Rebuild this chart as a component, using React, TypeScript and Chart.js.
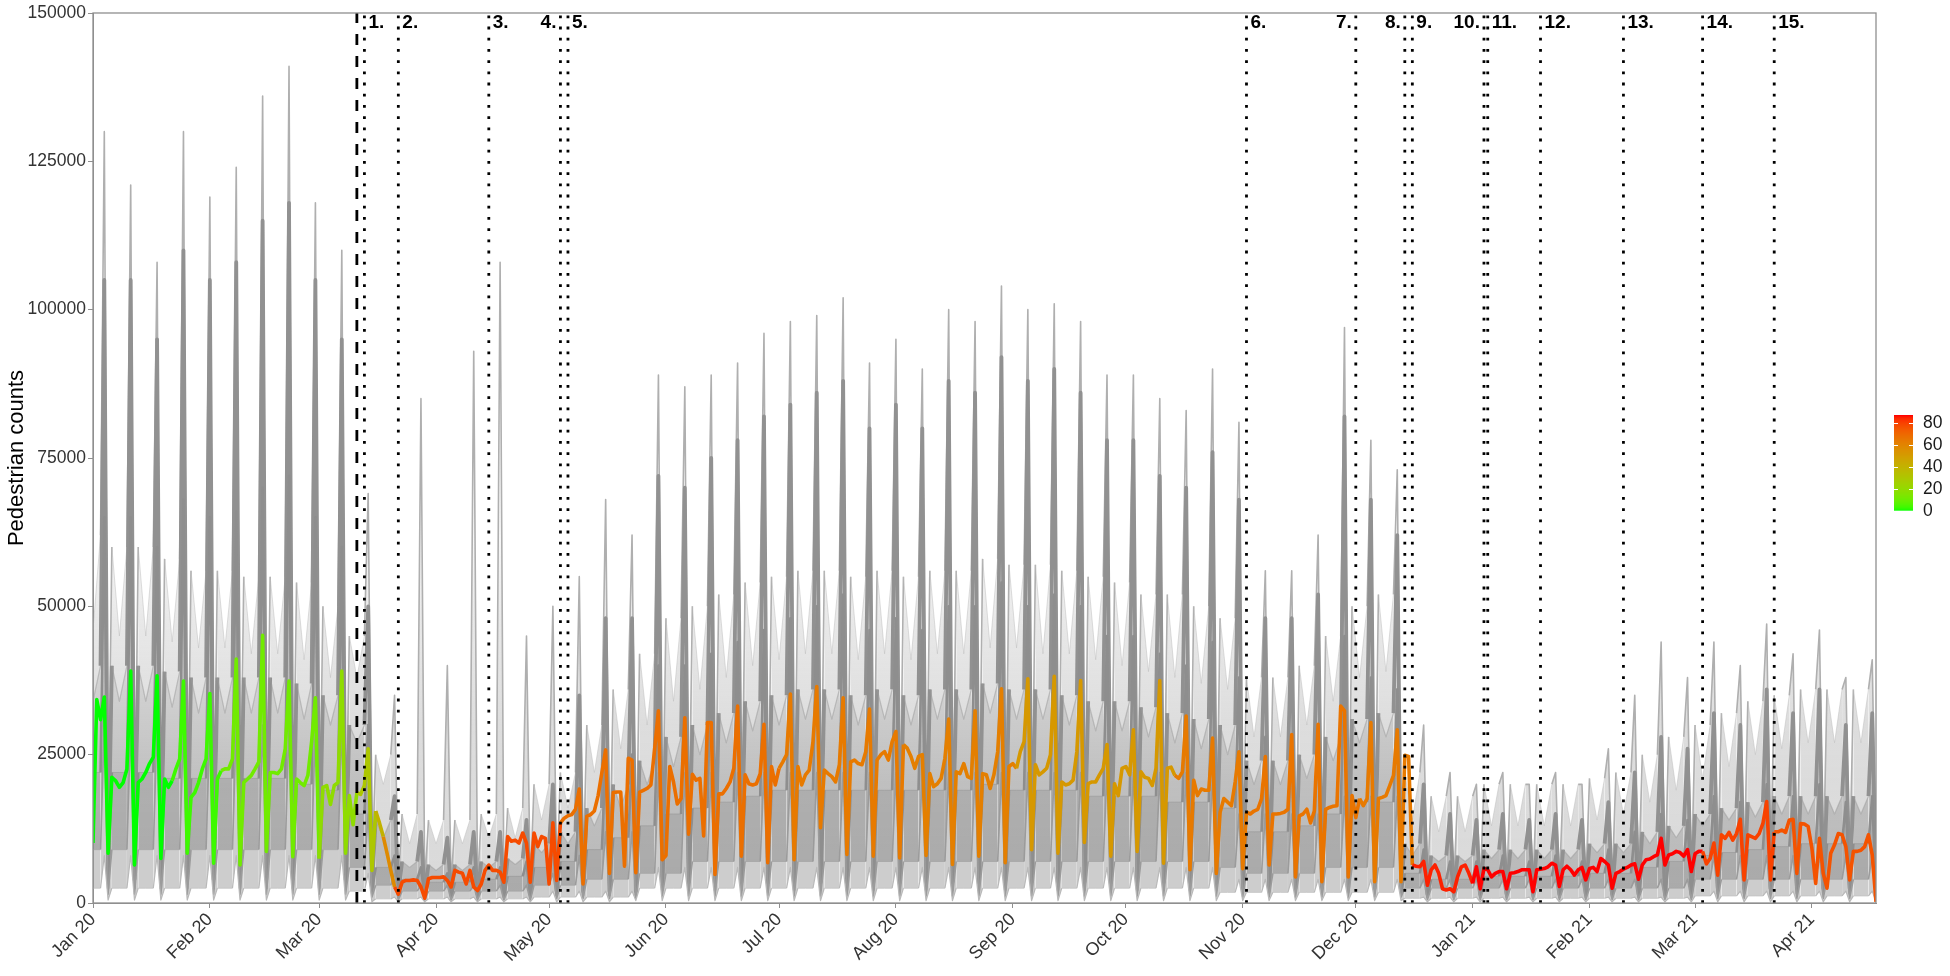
import React, { useEffect, useRef } from "react";
import { Chart, registerables } from "chart.js";

Chart.register(...registerables);

/* ---------------- calendar ---------------- */
const START_UTC = Date.UTC(2020, 0, 1);
const dayOf = (iso: string): number =>
  Math.round((Date.parse(iso + "T00:00:00Z") - START_UTC) / 86400000);

const lastDate = "2021-04-18";
const firstSaturday = "2020-01-04";

const monthTickDates = [
  "2020-01-01", "2020-02-01", "2020-03-01", "2020-04-01", "2020-05-01", "2020-06-01",
  "2020-07-01", "2020-08-01", "2020-09-01", "2020-10-01", "2020-11-01", "2020-12-01",
  "2021-01-01", "2021-02-01", "2021-03-01", "2021-04-01",
];
const monthTickLabels = [
  "Jan 20", "Feb 20", "Mar 20", "Apr 20", "May 20", "Jun 20", "Jul 20", "Aug 20",
  "Sep 20", "Oct 20", "Nov 20", "Dec 20", "Jan 21", "Feb 21", "Mar 21", "Apr 21",
];
const yTickValues = [0, 25000, 50000, 75000, 100000, 125000, 150000];

/* ---------------- median pedestrian counts per day (thousands) ---------------- */
const medJan20 = [10.1, 34.3, 30.9, 34.7, 8.4, 21.2, 20.6, 19.5, 20.3, 22.6, 39.1, 6.4, 20.3, 20.9, 22.0, 23.5, 24.6, 38.3, 7.5, 20.9, 19.5, 20.6, 22.6, 24.3, 37.4, 8.4, 17.8, 18.6, 20.3, 22.6, 24.3];
const medFeb20 = [35.3, 6.7, 20.9, 22.3, 22.6, 22.6, 24.3, 41.1, 6.4, 20.3, 20.9, 21.5, 22.6, 23.8, 45.1, 8.7, 22.0, 22.0, 21.8, 22.6, 26.0, 37.4, 7.8, 20.9, 20.3, 19.8, 21.5, 27.2, 34.6];
const medMar20 = [7.5, 19.5, 19.8, 16.6, 19.8, 20.3, 39.1, 8.4, 18.1, 13.2, 18.6, 18.3, 19.8, 26.0, 5.5, 15.5, 13.5, 11.2, 8.4, 5.5, 2.7, 1.5, 3.5, 3.8, 3.8, 3.9, 3.8, 2.7, 0.8, 4.1, 4.3];
const medApr20 = [4.3, 4.3, 4.4, 3.8, 2.7, 5.5, 5.2, 5.0, 3.2, 5.5, 2.7, 2.1, 3.2, 5.5, 6.4, 5.5, 5.5, 5.2, 3.5, 11.2, 10.4, 10.6, 10.1, 11.8, 10.1, 3.5, 11.8, 9.5, 11.2, 10.9];
const medMay20 = [3.2, 13.5, 3.8, 13.5, 14.3, 14.7, 14.9, 15.8, 19.2, 3.2, 14.6, 14.9, 15.5, 18.1, 22.0, 25.8, 5.0, 18.6, 18.7, 18.7, 6.2, 24.4, 24.1, 5.1, 18.7, 19.0, 19.3, 19.9, 26.0, 32.4, 7.3];
const medJun20 = [8.0, 23.0, 20.4, 16.7, 17.6, 31.2, 11.6, 21.7, 20.7, 21.0, 11.3, 30.4, 30.4, 4.8, 18.4, 18.4, 19.3, 20.4, 22.7, 33.2, 7.9, 21.6, 20.1, 19.9, 20.1, 21.8, 30.1, 6.8, 23.0, 19.9];
const medJul20 = [22.7, 23.8, 25.0, 35.2, 7.3, 23.0, 19.9, 21.6, 22.4, 27.2, 36.5, 12.7, 22.4, 21.8, 21.3, 20.4, 23.3, 34.6, 8.2, 23.8, 24.1, 23.5, 23.3, 25.5, 32.7, 7.9, 24.1, 25.0, 25.5, 24.1, 27.2];
const medAug20 = [28.9, 7.6, 26.7, 26.1, 24.7, 22.7, 24.7, 25.0, 8.0, 21.8, 19.6, 20.1, 21.0, 24.4, 31.0, 6.5, 22.1, 21.8, 23.5, 21.3, 21.0, 32.4, 7.9, 21.8, 21.6, 19.3, 21.6, 25.5, 36.1, 6.8, 23.0];
const medSep20 = [23.5, 22.7, 25.5, 27.2, 37.8, 9.0, 23.3, 21.6, 22.1, 22.7, 25.0, 38.2, 8.4, 20.4, 19.9, 20.1, 20.7, 25.5, 37.5, 10.2, 20.1, 20.4, 20.4, 21.6, 22.7, 26.7, 7.9, 20.1, 18.1, 22.7];
const medOct20 = [23.0, 21.6, 29.2, 8.7, 22.1, 21.2, 21.0, 19.8, 22.7, 37.5, 6.7, 22.7, 22.9, 21.5, 21.0, 22.1, 31.5, 5.6, 20.7, 18.1, 19.2, 19.0, 19.0, 27.8, 5.0, 15.3, 17.6, 17.0, 16.4, 20.4, 25.5];
const medNov20 = [5.8, 15.3, 15.0, 15.5, 15.8, 17.6, 24.7, 6.4, 15.0, 15.0, 15.1, 15.3, 15.8, 28.4, 4.4, 14.7, 15.0, 15.8, 13.5, 15.5, 30.1, 3.6, 15.8, 16.1, 16.3, 16.4, 33.2, 32.4, 4.4, 18.1];
const medDec20 = [14.4, 17.6, 16.4, 17.6, 30.4, 3.6, 17.6, 17.8, 18.1, 19.8, 21.5, 29.2, 3.6, 24.9, 24.7, 6.4, 6.2, 6.1, 7.0, 3.0, 5.6, 6.4, 5.0, 2.4, 2.2, 2.4, 1.9, 4.4, 6.1, 6.4, 5.0];
const medJan21 = [3.3, 6.1, 2.4, 5.8, 5.6, 4.4, 5.0, 5.3, 5.3, 2.4, 5.0, 5.1, 5.3, 5.6, 5.6, 5.6, 1.9, 5.6, 5.7, 5.8, 6.1, 6.7, 6.4, 2.8, 5.6, 6.2, 5.6, 4.7, 5.6, 6.0, 3.9];
const medFeb21 = [5.8, 6.0, 5.3, 7.5, 7.0, 6.4, 2.5, 5.0, 5.3, 5.7, 6.0, 6.4, 6.6, 4.0, 6.4, 7.3, 7.4, 7.8, 8.1, 10.9, 6.4, 8.1, 8.3, 8.7, 8.5, 7.9, 9.0, 5.3];
const medMar21 = [8.3, 8.7, 8.7, 6.6, 7.5, 10.1, 4.7, 11.5, 10.9, 11.9, 10.6, 11.7, 14.1, 3.9, 11.5, 11.2, 10.9, 11.7, 13.4, 17.1, 3.9, 12.0, 12.0, 12.3, 11.9, 14.0, 14.1, 5.0, 13.4, 13.3, 12.9];
const medApr21 = [9.2, 3.3, 10.9, 5.0, 2.5, 8.4, 9.8, 11.7, 11.5, 9.5, 3.9, 8.7, 8.7, 8.9, 9.5, 11.5, 8.1, 0.2];

const medianThousands = [
  ...medJan20, ...medFeb20, ...medMar20, ...medApr20, ...medMay20, ...medJun20,
  ...medJul20, ...medAug20, ...medSep20, ...medOct20, ...medNov20, ...medDec20,
  ...medJan21, ...medFeb21, ...medMar21, ...medApr21,
];

/* ---------------- stringency index (step changes) ---------------- */
const stringencyDates = [
  "2020-01-01", "2020-01-22", "2020-02-04", "2020-03-01", "2020-03-11", "2020-03-16",
  "2020-03-18", "2020-03-21", "2020-05-04", "2020-07-01", "2020-08-03", "2020-09-02",
  "2020-10-14", "2020-11-02", "2020-12-02", "2020-12-16", "2021-01-01", "2021-03-03",
  "2021-03-22",
];
const stringencyValues = [0, 3, 11, 19, 30, 40, 58, 78, 68, 64, 62, 52, 64, 66, 64, 85, 87, 80, 76];

/* ---------------- grey sensor envelope, per week (thousands):
   Mon/Fri weekday level, Wednesday level, Saturday peak, Sunday low ---------------- */
const outerBase = [62, 60, 60, 58, 56, 56, 55, 55, 54, 50, 45, 25, 15, 14, 14, 15, 16, 20, 22, 30, 36, 42, 48, 50, 52, 54, 55, 56, 56, 55, 56, 55, 56, 56, 58, 57, 57, 56, 55, 54, 52, 52, 50, 48, 38, 38, 40, 45, 50, 52, 22, 18, 18, 20, 20, 20, 20, 21, 22, 25, 28, 30, 32, 34, 35, 36, 36, 36];
const outerMid = [46, 45, 45, 44, 43, 43, 42, 42, 41, 38, 38, 20, 10, 10, 10, 11, 11, 14, 16, 22, 26, 30, 34, 36, 38, 40, 41, 42, 42, 41, 42, 41, 42, 42, 43, 43, 42, 42, 41, 40, 39, 38, 37, 36, 28, 28, 30, 34, 38, 39, 14, 12, 12, 13, 13, 13, 13, 14, 15, 17, 19, 21, 23, 25, 26, 27, 27, 27];
const outerPeak = [130, 121, 108, 130, 119, 124, 136, 141, 118, 110, 69, 35, 85, 40, 93, 108, 45, 50, 55, 68, 62, 89, 87, 89, 91, 96, 98, 99, 102, 91, 95, 90, 100, 98, 104, 100, 101, 98, 89, 89, 85, 83, 90, 81, 56, 56, 62, 97, 78, 73, 30, 22, 20, 22, 20, 22, 20, 26, 35, 44, 38, 44, 40, 47, 42, 46, 38, 41];
const outerLow = [8, 8, 8, 8, 8, 8, 8, 8, 8, 8, 5, 3, 3, 3, 3, 3, 3, 4, 4, 4, 4, 7, 7, 7, 7, 7, 7, 7, 7, 7, 7, 7, 7, 7, 7, 7, 7, 7, 7, 7, 7, 7, 7, 5, 5, 5, 5, 5, 5, 5, 3, 3, 3, 3, 3, 3, 3, 3, 3, 3, 3, 5, 5, 5, 5, 5, 5, 5];

const denseTopBase = [40, 40, 40, 39, 38, 38, 38, 38, 37, 35, 30, 14, 7, 6.5, 6.5, 7, 7.5, 10, 12, 16, 20, 24, 28, 30, 32, 34, 35, 36, 36, 35, 36, 35, 36, 36, 37, 36, 36, 35, 34, 34, 33, 32, 31, 30, 24, 24, 25, 28, 31, 32, 10, 8, 8, 9, 9, 9, 9, 10, 10, 12, 13, 15, 16, 17, 18, 18, 18, 18];
const denseTopMid = [34, 34, 34, 33, 32, 32, 32, 32, 31, 30, 27, 11, 6, 5.5, 5.5, 6, 6.5, 8.5, 10, 13, 16, 20, 23, 25, 27, 29, 30, 31, 31, 30, 31, 30, 31, 31, 32, 31, 31, 30, 29, 29, 28, 27, 26, 25, 20, 20, 21, 24, 27, 28, 8, 7, 7, 7.5, 7.5, 7.5, 7.5, 8.5, 8.5, 10, 11, 13, 14, 14.5, 15, 15, 15, 15];
const denseTopPeak = [105, 105, 95, 110, 105, 108, 115, 118, 105, 95, 50, 18, 12, 11, 12, 12, 14, 20, 35, 48, 48, 72, 70, 75, 78, 82, 84, 86, 88, 80, 84, 80, 88, 86, 92, 88, 90, 86, 78, 78, 72, 70, 76, 68, 48, 48, 52, 82, 68, 62, 20, 15, 14, 15, 14, 15, 14, 17, 22, 28, 26, 32, 30, 36, 32, 36, 30, 32];
const denseTopLow = [4, 4, 4, 4, 4, 4, 4, 4, 4, 4, 3, 1.5, 1.5, 1.5, 1.5, 1.5, 1.5, 2, 2, 2, 2, 3.5, 3.5, 3.5, 3.5, 3.5, 3.5, 3.5, 3.5, 3.5, 3.5, 3.5, 3.5, 3.5, 3.5, 3.5, 3.5, 3.5, 3.5, 3.5, 3.5, 3.5, 3.5, 2.5, 2.5, 2.5, 2.5, 2.5, 2.5, 2.5, 1.5, 1.5, 1.5, 1.5, 1.5, 1.5, 1.5, 1.5, 1.5, 1.5, 1.5, 2.5, 2.5, 2.5, 2.5, 2.5, 2.5, 2.5];

const denseMidBase = [22, 22, 22, 21, 21, 21, 21, 21, 20, 19, 15, 6, 4, 3.5, 3.5, 4, 4.5, 6, 7, 9, 11, 13, 15, 16, 17, 18, 19, 19, 19, 19, 19, 19, 19, 19, 20, 19, 19, 19, 18, 18, 18, 17, 17, 16, 12, 12, 13, 15, 17, 17, 5, 4, 4, 4.5, 4.5, 4.5, 4.5, 5, 5, 6, 7, 8, 8.5, 9, 9.5, 10, 10, 10];
const denseMidPeak = [65, 65, 60, 68, 65, 66, 70, 72, 65, 60, 30, 8, 6, 5, 6, 6, 7, 10, 18, 25, 25, 40, 40, 42, 44, 46, 48, 50, 52, 46, 48, 46, 50, 50, 54, 50, 52, 50, 45, 45, 42, 40, 44, 38, 28, 28, 30, 45, 38, 36, 9, 7, 7, 8, 7, 8, 7, 9, 12, 15, 14, 18, 17, 20, 18, 20, 17, 18];
const denseMidLow = [2.5, 2.5, 2.5, 2.5, 2.5, 2.5, 2.5, 2.5, 2.5, 2.5, 2, 1, 1, 1, 1, 1, 1, 1.3, 1.3, 1.3, 1.3, 2.2, 2.2, 2.2, 2.2, 2.2, 2.2, 2.2, 2.2, 2.2, 2.2, 2.2, 2.2, 2.2, 2.2, 2.2, 2.2, 2.2, 2.2, 2.2, 2.2, 2.2, 2.2, 1.8, 1.8, 1.8, 1.8, 1.8, 1.8, 1.8, 1, 1, 1, 1, 1, 1, 1, 1, 1, 1, 1, 1.6, 1.6, 1.6, 1.6, 1.6, 1.6, 1.6];

const denseBotBase = [9, 9, 9, 9, 9, 9, 9, 9, 9, 9, 6, 3, 2, 2, 2, 2, 2, 3, 3, 4, 4, 5, 5, 7, 7, 7, 7, 7, 7, 7, 7, 7, 7, 7, 7, 7, 7, 7, 7, 7, 7, 7, 7, 6, 5, 5, 5, 6, 6, 6, 2.5, 2.5, 2.5, 2.5, 2.5, 2.5, 2.5, 2.5, 2.5, 2.5, 2.5, 4, 4, 4, 4, 4, 4, 4];
const denseBotPeak = [30, 30, 30, 30, 30, 30, 30, 30, 30, 30, 15, 5, 3, 3, 3, 3, 3, 5, 8, 12, 12, 22, 22, 22, 22, 22, 22, 22, 22, 22, 22, 22, 22, 22, 22, 22, 22, 22, 22, 22, 22, 22, 22, 15, 15, 15, 15, 18, 18, 18, 4, 4, 4, 4, 4, 4, 4, 4, 4, 4, 4, 8, 8, 8, 8, 8, 8, 8];
const denseBotLow = [1.5, 1.5, 1.5, 1.5, 1.5, 1.5, 1.5, 1.5, 1.5, 1.5, 1, 0.5, 0.5, 0.5, 0.5, 0.5, 0.5, 0.8, 0.8, 0.8, 0.8, 1.2, 1.2, 1.2, 1.2, 1.2, 1.2, 1.2, 1.2, 1.2, 1.2, 1.2, 1.2, 1.2, 1.2, 1.2, 1.2, 1.2, 1.2, 1.2, 1.2, 1.2, 1.2, 1, 1, 1, 1, 1, 1, 1, 0.6, 0.6, 0.6, 0.6, 0.6, 0.6, 0.6, 0.6, 0.6, 0.6, 0.6, 0.8, 0.8, 0.8, 0.8, 0.8, 0.8, 0.8];

const floorBase = [2.5, 2.5, 2.5, 2.5, 2.5, 2.5, 2.5, 2.5, 2.5, 2.5, 2, 0.7, 0.7, 0.7, 0.7, 0.7, 0.7, 1, 1, 1, 1, 2.5, 2.5, 2.5, 2.5, 2.5, 2.5, 2.5, 2.5, 2.5, 2.5, 2.5, 2.5, 2.5, 2.5, 2.5, 2.5, 2.5, 2.5, 2.5, 2.5, 2.5, 2.5, 1.8, 1.8, 1.8, 1.8, 1.8, 1.8, 1.8, 0.8, 0.8, 0.8, 0.8, 0.8, 0.8, 0.8, 0.8, 0.8, 0.8, 0.8, 1.2, 1.2, 1.2, 1.2, 1.2, 1.2, 1.2];
const floorPeak = [8, 8, 8, 8, 8, 8, 8, 8, 8, 8, 5, 1, 1, 1, 1, 1, 1, 2, 2, 2, 2, 6, 6, 6, 6, 6, 6, 6, 6, 6, 6, 6, 6, 6, 6, 6, 6, 6, 6, 6, 6, 6, 6, 4, 4, 4, 4, 4, 4, 4, 1, 1, 1, 1, 1, 1, 1, 1, 1, 1, 1, 2, 2, 2, 2, 2, 2, 2];
const floorLow = [0.5, 0.5, 0.5, 0.5, 0.5, 0.5, 0.5, 0.5, 0.5, 0.5, 0.2, 0.2, 0.2, 0.2, 0.2, 0.2, 0.2, 0.2, 0.2, 0.2, 0.4, 0.4, 0.4, 0.4, 0.4, 0.4, 0.4, 0.4, 0.4, 0.4, 0.4, 0.4, 0.4, 0.4, 0.4, 0.4, 0.4, 0.4, 0.4, 0.4, 0.4, 0.4, 0.4, 0.4, 0.4, 0.4, 0.4, 0.4, 0.4, 0.4, 0.2, 0.2, 0.2, 0.2, 0.2, 0.2, 0.2, 0.2, 0.2, 0.2, 0.2, 0.2, 0.2, 0.2, 0.2, 0.2, 0.2, 0.2];

/* ---------------- events ---------------- */
const pandemicDate = "2020-03-11";
const eventDates = [
  "2020-03-13", "2020-03-22", "2020-04-15", "2020-05-04", "2020-05-06", "2020-11-02",
  "2020-12-01", "2020-12-14", "2020-12-16", "2021-01-04", "2021-01-05", "2021-01-19",
  "2021-02-10", "2021-03-03", "2021-03-22",
];
const eventLabels = ["1.", "2.", "3.", "4.", "5.", "6.", "7.", "8.", "9.", "10.", "11.", "12.", "13.", "14.", "15."];
const eventLabelSide = ["R", "R", "R", "L", "R", "R", "L", "L", "R", "L", "R", "R", "R", "R", "R"];

const legendTicks = [0, 20, 40, 60, 80];

/* ---------------- colour scale: CIELAB interpolation green -> red ---------------- */
const toLin = (c: number) => {
  const v = c / 255;
  return v <= 0.04045 ? v / 12.92 : Math.pow((v + 0.055) / 1.055, 2.4);
};
const fromLin = (c: number) => {
  const v = c <= 0.0031308 ? 12.92 * c : 1.055 * Math.pow(Math.max(c, 0), 1 / 2.4) - 0.055;
  return Math.round(Math.max(0, Math.min(1, v)) * 255);
};
const rgb2lab = (rgb: number[]) => {
  const R = toLin(rgb[0]), G = toLin(rgb[1]), B = toLin(rgb[2]);
  const X = (0.4124 * R + 0.3576 * G + 0.1805 * B) / 0.95047;
  const Y = 0.2126 * R + 0.7152 * G + 0.0722 * B;
  const Z = (0.0193 * R + 0.1192 * G + 0.9505 * B) / 1.08883;
  const f = (t: number) => (t > 0.008856 ? Math.cbrt(t) : 7.787 * t + 16 / 116);
  const fx = f(X), fy = f(Y), fz = f(Z);
  return [116 * fy - 16, 500 * (fx - fy), 200 * (fy - fz)];
};
const lab2rgb = (lab: number[]) => {
  const fy = (lab[0] + 16) / 116, fx = fy + lab[1] / 500, fz = fy - lab[2] / 200;
  const inv = (t: number) => (t * t * t > 0.008856 ? t * t * t : (t - 16 / 116) / 7.787);
  const X = inv(fx) * 0.95047, Y = inv(fy), Z = inv(fz) * 1.08883;
  const R = 3.2406 * X - 1.5372 * Y - 0.4986 * Z;
  const G = -0.9689 * X + 1.8758 * Y + 0.0415 * Z;
  const B = 0.0557 * X - 0.204 * Y + 1.057 * Z;
  return [fromLin(R), fromLin(G), fromLin(B)];
};
const LAB_LOW = rgb2lab([0, 255, 0]);
const LAB_HIGH = rgb2lab([255, 0, 0]);
const S_MIN = Math.min(...stringencyValues);
const S_MAX = Math.max(...stringencyValues);
const colourFor = (v: number) => {
  const t = Math.max(0, Math.min(1, (v - S_MIN) / (S_MAX - S_MIN)));
  const lab = [0, 1, 2].map((i) => LAB_LOW[i] + (LAB_HIGH[i] - LAB_LOW[i]) * t);
  const c = lab2rgb(lab);
  return `rgb(${c[0]},${c[1]},${c[2]})`;
};
const stringencyDays = stringencyDates.map(dayOf);
const stringencyAt = (day: number) => {
  let v = stringencyValues[0];
  for (let i = 0; i < stringencyDays.length; i++) if (stringencyDays[i] <= day) v = stringencyValues[i];
  return v;
};

/* ---------------- helpers ---------------- */
const FONT = "'Liberation Sans', Arial, Helvetica, sans-serif";
const SAT0 = dayOf(firstSaturday);

// five points per week: Monday, Wednesday, Friday, Saturday peak, Sunday low
const weeklyPoints = (base: number[], peak: number[], low: number[], mid?: number[]) => {
  const pts: { x: number; y: number }[] = [];
  for (let k = 0; k < peak.length; k++) {
    const sat = SAT0 + 7 * k;
    pts.push({ x: sat - 5, y: base[k] * 1000 });
    pts.push({ x: sat - 3, y: (mid ? mid[k] : base[k]) * 1000 });
    pts.push({ x: sat - 1, y: base[k] * 1000 });
    pts.push({ x: sat, y: peak[k] * 1000 });
    pts.push({ x: sat + 1, y: low[k] * 1000 });
  }
  return pts;
};
const PTS_PER_WEEK = 5;

// vertical fill gradient (fading towards higher counts)
const verticalGradient = (stops: [number, string][]) => (c: any) => {
  const chart = c.chart;
  const ys = chart.scales && chart.scales.y;
  if (!ys || !chart.chartArea) return stops[0][1];
  const top = stops[stops.length - 1][0];
  const g = chart.ctx.createLinearGradient(0, ys.getPixelForValue(0), 0, ys.getPixelForValue(top));
  stops.forEach(([v, col]) => g.addColorStop(v / top, col));
  return g;
};

const overlayPlugin = {
  id: "overlay",
  afterDatasetsDraw(chart: any) {
    const { ctx, chartArea: a, scales } = chart;
    const xs = scales.x;
    ctx.save();
    ctx.strokeStyle = "#000";
    ctx.lineWidth = 2.8;
    ctx.lineCap = "butt";
    ctx.setLineDash([2.8, 8.4]);
    eventDates.forEach((d) => {
      const x = xs.getPixelForValue(dayOf(d));
      ctx.beginPath();
      ctx.moveTo(x, a.bottom);
      ctx.lineTo(x, a.top);
      ctx.stroke();
    });
    ctx.setLineDash([11, 11]);
    const xp = xs.getPixelForValue(dayOf(pandemicDate));
    ctx.beginPath();
    ctx.moveTo(xp, a.bottom);
    ctx.lineTo(xp, a.top);
    ctx.stroke();
    ctx.setLineDash([]);
    ctx.fillStyle = "#000";
    ctx.font = `bold 19px ${FONT}`;
    ctx.textBaseline = "middle";
    eventDates.forEach((d, i) => {
      const x = xs.getPixelForValue(dayOf(d));
      if (eventLabelSide[i] === "L") {
        ctx.textAlign = "right";
        ctx.fillText(eventLabels[i], x - 4, a.top + 10);
      } else {
        ctx.textAlign = "left";
        ctx.fillText(eventLabels[i], x + 4, a.top + 10);
      }
    });
    ctx.strokeStyle = "#8f8f8f";
    ctx.lineWidth = 1.3;
    ctx.strokeRect(a.left, a.top, a.right - a.left, a.bottom - a.top);
    ctx.restore();
  },
  afterDraw(chart: any) {
    const { ctx, chartArea: a } = chart;
    ctx.save();
    ctx.translate(17, (a.top + a.bottom) / 2);
    ctx.rotate(-Math.PI / 2);
    ctx.fillStyle = "#000";
    ctx.font = `22px ${FONT}`;
    ctx.textAlign = "center";
    ctx.textBaseline = "middle";
    ctx.fillText("Pedestrian counts", 0, 0);
    ctx.restore();

    ctx.save();
    const barL = 1894, barW = 19;
    const y0 = 510.7, pxPerUnit = 1.0925;
    const yOf = (v: number) => y0 - v * pxPerUnit;
    const top = yOf(S_MAX), bottom = yOf(S_MIN);
    for (let y = Math.floor(top); y < bottom; y++) {
      const v = (y0 - (y + 0.5)) / pxPerUnit;
      ctx.fillStyle = colourFor(v);
      ctx.fillRect(barL, y, barW, Math.min(1, bottom - y));
    }
    ctx.strokeStyle = "#fff";
    ctx.lineWidth = 1;
    ctx.fillStyle = "#1a1a1a";
    ctx.font = `17.5px ${FONT}`;
    ctx.textAlign = "left";
    ctx.textBaseline = "middle";
    legendTicks.forEach((v) => {
      const y = Math.round(yOf(v)) + 0.5;
      ctx.beginPath();
      ctx.moveTo(barL, y);
      ctx.lineTo(barL + 4, y);
      ctx.moveTo(barL + barW - 4, y);
      ctx.lineTo(barL + barW, y);
      ctx.stroke();
      ctx.fillText(String(v), 1923, yOf(v));
    });
    ctx.restore();
  },
};

export default function App() {
  const ref = useRef<HTMLCanvasElement | null>(null);

  useEffect(() => {
    if (!ref.current) return;
    const lastDay = dayOf(lastDate);
    const monthTickDays = monthTickDates.map(dayOf);

    // weekday segments (Mon->Wed->Fri) are drawn light; Saturday spike / Sunday dip segments darker and wider
    const isFlat = (c: any) => c.p0DataIndex % PTS_PER_WEEK < 2;
    const greyLine = (
      pts: any[], spikeColor: string, spikeWidth: number, flatColor: string, flatWidth: number,
      order: number, fill: any, bg: any,
    ) => ({
      data: pts,
      borderColor: flatColor,
      borderWidth: flatWidth,
      backgroundColor: bg,
      fill,
      order,
      pointRadius: 0,
      tension: 0,
      borderJoinStyle: "round",
      segment: {
        borderColor: (c: any) => (isFlat(c) ? flatColor : spikeColor),
        borderWidth: (c: any) => (isFlat(c) ? flatWidth : spikeWidth),
      },
    });

    const outerFill = verticalGradient([
      [0, "rgba(190,190,190,0.58)"],
      [30000, "rgba(190,190,190,0.52)"],
      [48000, "rgba(190,190,190,0.34)"],
      [62000, "rgba(190,190,190,0.13)"],
      [85000, "rgba(190,190,190,0)"],
    ]);
    const denseFill = verticalGradient([
      [0, "rgba(145,145,145,0.64)"],
      [20000, "rgba(145,145,145,0.58)"],
      [34000, "rgba(145,145,145,0.44)"],
      [60000, "rgba(145,145,145,0.16)"],
    ]);

    const datasets: any[] = [
      greyLine(weeklyPoints(outerBase, outerPeak, outerLow, outerMid), "rgba(175,175,175,1)", 1.6, "rgba(190,190,190,0.5)", 1, 6, 1, outerFill),
      greyLine(weeklyPoints(denseTopBase, denseTopPeak, denseTopLow, denseTopMid), "rgba(145,145,145,1)", 3.8, "rgba(155,155,155,0.55)", 1.2, 5, 3, denseFill),
      greyLine(weeklyPoints(denseMidBase, denseMidPeak, denseMidLow), "rgba(142,142,142,1)", 2.6, "rgba(148,148,148,0.55)", 1, 4, 3, "rgba(135,135,135,0.3)"),
      greyLine(weeklyPoints(denseBotBase, denseBotPeak, denseBotLow), "rgba(155,155,155,1)", 1.6, "rgba(165,165,165,0.8)", 1.1, 3, 4, "rgba(160,160,160,0.52)"),
      greyLine(weeklyPoints(floorBase, floorPeak, floorLow), "rgba(185,185,185,1)", 1.2, "rgba(195,195,195,0.9)", 1, 2, false, "transparent"),
      {
        data: medianThousands.map((v, i) => ({ x: i, y: v * 1000 })),
        borderWidth: 3.6,
        borderColor: colourFor(stringencyAt(0)),
        segment: { borderColor: (c: any) => colourFor(stringencyAt(c.p0.parsed.x)) },
        fill: false,
        order: 0,
        pointRadius: 0,
        tension: 0,
        borderJoinStyle: "round",
      },
    ];

    const chart = new Chart(ref.current, {
      type: "line",
      data: { datasets },
      plugins: [overlayPlugin],
      options: {
        responsive: false,
        animation: false,
        events: [],
        layout: { padding: { left: 0, right: 74, top: 13, bottom: 0 } },
        plugins: { legend: { display: false }, tooltip: { enabled: false } },
        scales: {
          x: {
            type: "linear",
            min: 0,
            max: lastDay,
            afterBuildTicks: (s: any) => {
              s.ticks = monthTickDays.map((v) => ({ value: v }));
            },
            afterFit: (s: any) => {
              s.height = 73;
            },
            ticks: {
              autoSkip: false,
              maxRotation: 45,
              minRotation: 45,
              padding: 1,
              color: "#333333",
              font: { family: FONT, size: 18 },
              callback: (_v: any, i: number) => monthTickLabels[i],
            },
            grid: { display: true, drawOnChartArea: false, drawTicks: true, tickLength: 5, color: "#8f8f8f" },
            border: { display: true, color: "#8f8f8f" },
          },
          y: {
            min: 0,
            max: 150000,
            afterBuildTicks: (s: any) => {
              s.ticks = yTickValues.map((v) => ({ value: v }));
            },
            afterFit: (s: any) => {
              s.width = 93;
            },
            ticks: {
              padding: 2,
              color: "#333333",
              font: { family: FONT, size: 17.5 },
              callback: (v: any) => String(v),
            },
            grid: { display: true, drawOnChartArea: false, drawTicks: true, tickLength: 5, color: "#8f8f8f" },
            border: { display: true, color: "#8f8f8f" },
          },
        },
      },
    } as any);
    return () => chart.destroy();
  }, []);

  return (
    <div style={{ position: "fixed", left: 0, top: 0, width: 1950, height: 976, background: "#fff" }}>
      <canvas ref={ref} width={1950} height={976} style={{ width: 1950, height: 976, display: "block" }} />
    </div>
  );
}
